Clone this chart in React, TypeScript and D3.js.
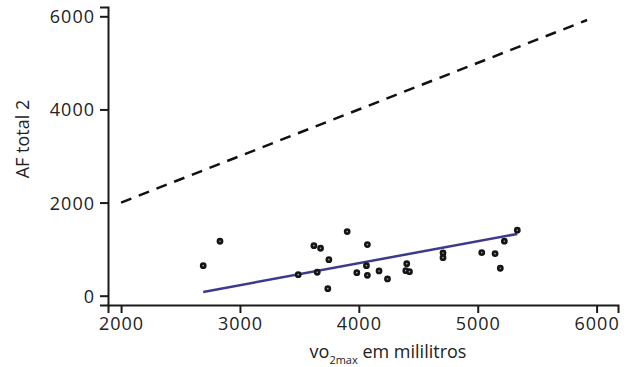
import { useEffect, useRef } from 'react'
import * as d3 from 'd3'

// vo2max (ml) vs AF total 2
const vo2max = [2691, 2832, 3490, 3622, 3678, 3650, 3748, 3739, 3902, 3983, 4072, 4064, 4072, 4170, 4241, 4403, 4395, 4426, 4708, 4708, 5034, 5146, 5190, 5224, 5333]
const afTotal = [645, 1169, 452, 1075, 1019, 503, 774, 151, 1376, 495, 1097, 645, 438, 531, 359, 688, 538, 516, 918, 817, 925, 903, 589, 1170, 1406]

// fitted line endpoints and identity reference line
const fitX = [2691, 5333]
const fitY = [80, 1327]
const identity = [2000, 5920]

const xTicks = [2000, 3000, 4000, 5000, 6000]
const yTicks = [0, 2000, 4000, 6000]

function Scatter({ width = 635, height = 367 }) {
    const ref = useRef<SVGSVGElement | null>(null)

    useEffect(() => {
        const svg = d3.select(ref.current)
        svg.selectAll("*").remove()

        const font = "'Open Sans', sans-serif"

        const x = d3.scaleLinear().domain([1890, 6180]).range([108, 618])
        const y = d3.scaleLinear().domain([-200, 6200]).range([305, 7])

        // identity line
        svg.append("line")
            .attr("x1", x(identity[0])).attr("y1", y(identity[0]))
            .attr("x2", x(identity[1])).attr("y2", y(identity[1]))
            .attr("stroke", "#111").attr("stroke-width", 2.5)
            .attr("stroke-dasharray", "11,8")

        // fitted line
        svg.append("line")
            .attr("x1", x(fitX[0])).attr("y1", y(fitY[0]))
            .attr("x2", x(fitX[1])).attr("y2", y(fitY[1]))
            .attr("stroke", "#3d3a8c").attr("stroke-width", 2.5)

        svg.append("g")
            .selectAll("circle")
            .data(vo2max.map((v, i) => ({ x: v, y: afTotal[i] })))
            .join("circle")
            .attr("cx", d => x(d.x))
            .attr("cy", d => y(d.y))
            .attr("r", 2.1)
            .attr("fill", "#aaa")
            .attr("stroke", "#151515")
            .attr("stroke-width", 2.6)

        const xAxis = svg.append("g")
            .attr("transform", `translate(0,${y(-200)})`)
            .call(d3.axisBottom(x).tickValues(xTicks).tickSizeOuter(0).tickSize(8).tickPadding(4).tickFormat(d3.format("d")))
        const yAxis = svg.append("g")
            .attr("transform", `translate(${x(1890)},0)`)
            .call(d3.axisLeft(y).tickValues(yTicks).tickSizeOuter(0).tickSize(8).tickPadding(5).tickFormat(d3.format("d")))

        for (const g of [xAxis, yAxis]) {
            g.selectAll("path, line").attr("stroke", "#1a1a1a").attr("stroke-width", 2)
            g.selectAll("text")
                .attr("fill", "#222")
                .attr("font-size", 18)
                .attr("font-family", font)
                .attr("letter-spacing", 1)
        }
        yAxis.selectAll("text").attr("dy", "0.36em")

        // axis titles
        const xl = svg.append("text")
            .attr("x", 388).attr("y", 358)
            .attr("text-anchor", "middle")
            .attr("font-family", font).attr("font-size", 18).attr("fill", "#222")
        xl.append("tspan").text("vo")
        xl.append("tspan").attr("font-size", 11).attr("dy", 6).text("2max")
        xl.append("tspan").attr("dy", -6).text(" em mililitros")

        svg.append("text")
            .attr("transform", "translate(29,139) rotate(-90)")
            .attr("text-anchor", "middle")
            .attr("font-family", font).attr("font-size", 18).attr("fill", "#222")
            .text("AF total 2")
    }, [])

    return (
        <svg ref={ref} width={width} height={height}
            style={{ position: "absolute", left: 0, top: 0, background: "#fff" }}></svg>
    )
}

export default function App() {
    return <Scatter />
}
